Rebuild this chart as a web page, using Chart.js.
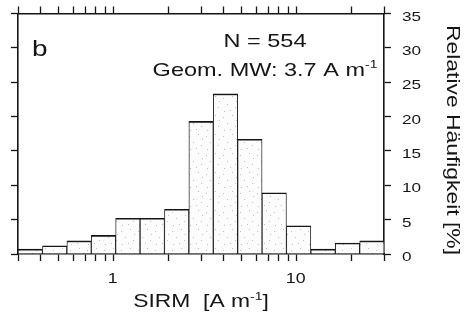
<!DOCTYPE html>
<html>
<head>
<meta charset="utf-8">
<script src="https://cdn.jsdelivr.net/npm/chart.js@4/dist/chart.umd.min.js"></script>
<style>
  html, body { margin: 0; padding: 0; background: #fff; }
  #wrap { width: 466px; height: 322px; }
</style>
</head>
<body>
<div id="wrap"><canvas id="histChart" width="466" height="322"></canvas></div>
<script>
'use strict';

// SIRM bins (geometric centres, A m-1) and relative frequency [%]
var binCenters = [0.35, 0.476, 0.647, 0.879, 1.195, 1.625, 2.209, 3.003, 4.082, 5.55, 7.54, 10.25, 13.94, 18.95, 25.76];
var frequency  = [0.7, 1.2, 1.9, 2.7, 5.2, 5.2, 6.5, 19.3, 23.3, 16.7, 8.9, 4.1, 0.7, 1.6, 1.9];

// axis ticks
var xTickValues = [0.3, 0.4, 0.5, 0.6, 0.7, 0.8, 0.9, 1, 2, 3, 4, 5, 6, 7, 8, 9, 10, 20, 30];
var xTickLabels = [1, 10];
var yTickValues = [0, 5, 10, 15, 20, 25, 30, 35];
var xRange = [0.3, 30];

var ink = '#151515';
var FONT = '"Liberation Sans", Arial, Helvetica, sans-serif';
var STRETCH = 1.27;

// light, sparse stipple for the bars
function stipple() {
    var c = document.createElement('canvas');
    c.width = 17; c.height = 19;
    var g = c.getContext('2d');
    g.fillStyle = '#fcfcfc';
    g.fillRect(0, 0, 17, 19);
    g.fillStyle = 'rgba(120,120,120,0.45)';
    [[2, 3], [11, 1], [6, 9], [14, 12], [3, 16], [9, 15], [15, 6]].forEach(function (p) {
        g.fillRect(p[0], p[1], 1, 1);
    });
    return g.createPattern(c, 'repeat');
}

// draw a run of text parts, horizontally stretched like the scanned figure
function drawParts(ctx, parts, x, y, align) {
    var total = 0;
    parts.forEach(function (p) {
        ctx.font = p.size + 'px ' + FONT;
        p.w = ctx.measureText(p.t).width * STRETCH;
        total += p.w;
    });
    var cx = x;
    if (align === 'center') cx = x - total / 2;
    if (align === 'right') cx = x - total;
    parts.forEach(function (p) {
        ctx.save();
        ctx.translate(cx, y + (p.dy || 0));
        ctx.scale(STRETCH, 1);
        ctx.font = p.size + 'px ' + FONT;
        ctx.textAlign = 'left';
        ctx.textBaseline = 'alphabetic';
        ctx.fillStyle = ink;
        ctx.fillText(p.t, 0, 0);
        ctx.restore();
        cx += p.w;
    });
}

var textPlugin = {
    id: 'textPlugin',
    afterDraw: function (chart) {
        var ctx = chart.ctx;
        var xs = chart.scales.x;
        var ys = chart.scales.y2;

        // x tick labels
        xTickLabels.forEach(function (v) {
            drawParts(ctx, [{t: String(v), size: 14}], xs.getPixelForValue(v) - 1, 283, 'center');
        });
        // y tick labels on the right
        yTickValues.forEach(function (v) {
            drawParts(ctx, [{t: String(v), size: 13.5}], 402, ys.getPixelForValue(v) + 7, 'left');
        });

        // x title
        drawParts(ctx, [
            {t: 'SIRM  [A m', size: 18},
            {t: '-1', size: 11, dy: -7},
            {t: ']', size: 18}
        ], 201, 307, 'center');

        // y title, rotated
        ctx.save();
        ctx.translate(447, 140);
        ctx.rotate(Math.PI / 2);
        drawParts(ctx, [{t: 'Relative Häufigkeit [%]', size: 18}], 0, 0, 'center');
        ctx.restore();

        // panel letter and annotation
        drawParts(ctx, [{t: 'b', size: 22}], 32, 56, 'left');
        drawParts(ctx, [{t: 'N = 554', size: 18.5}], 265, 47, 'center');
        drawParts(ctx, [
            {t: 'Geom. MW: 3.7 A m', size: 18.5},
            {t: '-1', size: 11, dy: -8}
        ], 265, 76, 'center');
    }
};

function setXTicks(scale) {
    scale.ticks = xTickValues.map(function (v) { return {value: v}; });
}
function setYTicks(scale) {
    scale.ticks = yTickValues.map(function (v) { return {value: v}; });
}

var axisGrid = {
    drawOnChartArea: false,
    drawTicks: true,
    tickLength: 7,
    tickWidth: 1.3,
    tickColor: ink,
    offset: false
};
var axisBorder = { display: true, color: ink, width: 1.6 };

var CHART = document.getElementById('histChart');
var histChart = new Chart(CHART, {
    type: 'bar',
    data: {
        datasets: [{
            xAxisID: 'xb',
            data: binCenters.map(function (c, i) { return {x: c, y: frequency[i]}; }),
            backgroundColor: stipple(),
            borderColor: ink,
            borderWidth: {top: 1.6, left: 0.9, right: 0.9, bottom: 0},
            borderSkipped: false,
            barPercentage: 1,
            categoryPercentage: 1
        }]
    },
    options: {
        responsive: false,
        animation: false,
        layout: { padding: {left: 8, right: 0, top: 0, bottom: 0} },
        plugins: {
            legend: { display: false },
            tooltip: { enabled: false }
        },
        scales: {
            // hidden scale that carries the bars (only end ticks, so bar widths follow the bins)
            xb: {
                type: 'logarithmic', display: false, position: 'bottom',
                min: xRange[0], max: xRange[1], offset: false,
                grid: { offset: false },
                afterBuildTicks: function (s) {
                    s.ticks = xRange.map(function (v) { return {value: v}; });
                }
            },
            x: {
                type: 'logarithmic', position: 'bottom', min: xRange[0], max: xRange[1], offset: false,
                grid: axisGrid, border: axisBorder,
                ticks: { display: false },
                afterBuildTicks: setXTicks,
                afterFit: function (s) { s.height = 68; }
            },
            x2: {
                type: 'logarithmic', position: 'top', min: xRange[0], max: xRange[1], offset: false,
                grid: axisGrid, border: axisBorder,
                ticks: { display: false },
                afterBuildTicks: setXTicks,
                afterFit: function (s) { s.height = 13.5; }
            },
            y: {
                type: 'linear', position: 'left', min: 0, max: 35,
                grid: axisGrid, border: axisBorder,
                ticks: { display: false },
                afterBuildTicks: setYTicks,
                afterFit: function (s) { s.width = 10; }
            },
            y2: {
                type: 'linear', position: 'right', min: 0, max: 35,
                grid: axisGrid, border: axisBorder,
                ticks: { display: false },
                afterBuildTicks: setYTicks,
                afterFit: function (s) { s.width = 82; }
            }
        }
    },
    plugins: [textPlugin]
});
</script>
</body>
</html>
